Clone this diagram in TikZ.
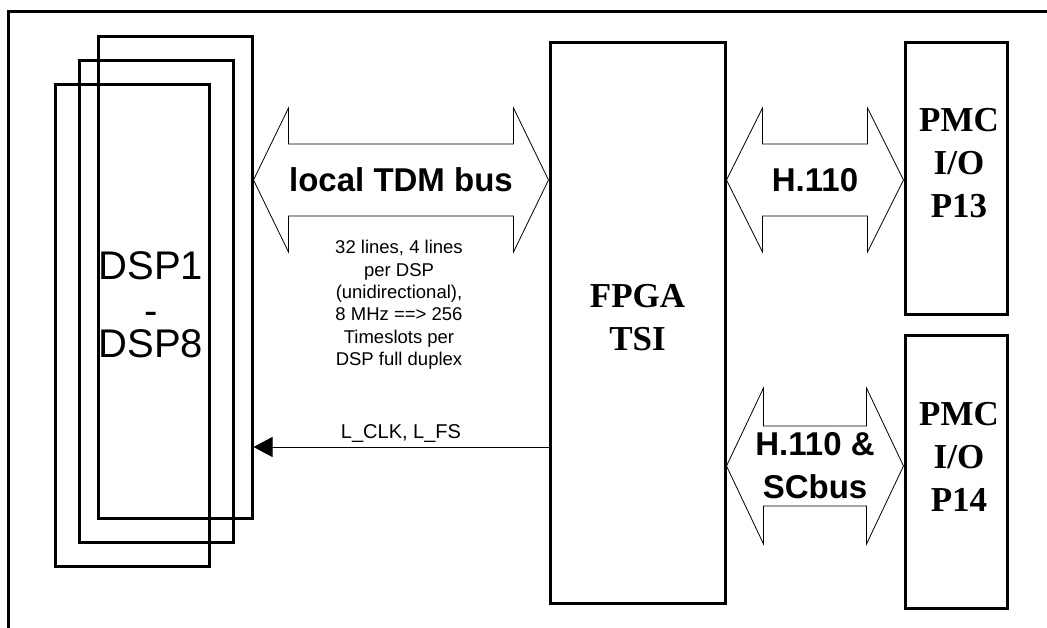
\documentclass[tikz,border=0pt]{standalone}
\usepackage{fontspec}
\setmainfont{Liberation Serif}
\setsansfont{Liberation Sans}
\usetikzlibrary{arrows.meta,calc,positioning}

% fat double arrow: #1 left tip, #2 right tip, #3 head length, #4 head half height, #5 shaft half height
\newcommand{\busarrow}[5]{%
  \draw[bus] (#1) -- ($(#1)+(#3,-#4)$) -- ($(#1)+(#3,-#5)$) -- ($(#2)+(-#3,-#5)$) -- ($(#2)+(-#3,-#4)$) -- (#2)
    -- ($(#2)+(-#3,#4)$) -- ($(#2)+(-#3,#5)$) -- ($(#1)+(#3,#5)$) -- ($(#1)+(#3,#4)$) -- cycle;}

\begin{document}
\begin{tikzpicture}[x=1pt,y=-1pt,
    box/.style={draw,line width=3pt,inner sep=0pt},
    dsp/.style={box,minimum width=154pt,minimum height=481pt},
    dsptext/.style={inner sep=0pt,anchor=base,font={\fontsize{40}{36.5}\selectfont\sffamily}},
    bus/.style={line width=0.8pt,line join=miter},
    buslabel/.style={inner sep=0pt,align=center,font={\fontsize{33}{43}\selectfont\sffamily\bfseries}},
    title/.style={inner sep=0pt,align=center,font={\fontsize{35}{43}\selectfont\rmfamily\bfseries}},
    note/.style={inner sep=0pt,align=center,font={\fontsize{18.5}{22.4}\selectfont\sffamily}}]
    \useasboundingbox (0,0) rectangle (1047,628);

    % Rahmen
    \draw[line width=3pt] (8,628) -- (8,12) -- (1047,12);

    % DSP-Stapel
    \node[dsp] (dspA) at (175,277.5) {};
    \node[dsp] (dspB) at ($(dspA)+(-19,24)$) {};
    \node[dsp] (dspC) at ($(dspB)+(-24,24)$) {};
    \node[dsptext] (dspfirst) at (151,280) {DSP1};
    \node[dsptext] (dspdash) at (151,325) {-};
    \node[dsptext] (dsplast) at (151,357) {DSP8};

    % FPGA und PMC
    \node[box,minimum width=175pt,minimum height=560pt] (fpga) at (637.5,323) {};
    \node[title] (fpgalabel) at ($(fpga)+(0,-5)$) {FPGA\\TSI};
    \node[box,minimum width=102pt,minimum height=272pt] (pmc13) at (956,179) {};
    \node[title] (pmc13label) at (959,163) {PMC\\I/O\\P13};
    \node[box,minimum width=102pt,minimum height=272pt] (pmc14) at (956,472) {};
    \node[title] (pmc14label) at (959,457) {PMC\\I/O\\P14};

    % lokaler TDM-Bus
    \coordinate (tdmL) at (dspA.east |- 0,180);
    \coordinate (tdmR) at (fpga.west |- tdmL);
    \busarrow{tdmL}{tdmR}{35}{72}{36}
    \node[buslabel] (tdm) at ($(tdmL)!0.5!(tdmR)$) {local TDM bus};
    \node[note,anchor=north] (tdmnote) at (399,240)
        {32 lines, 4 lines\\per DSP\\(unidirectional),\\8 MHz ==> 256\\Timeslots per\\DSP full duplex};

    % H.110
    \coordinate (hL) at (fpga.east |- 0,180);
    \coordinate (hR) at (pmc13.west |- hL);
    \busarrow{hL}{hR}{36}{72}{36}
    \node[buslabel] (h110) at ($(hL)!0.5!(hR)$) {H.110};

    % H.110 & SCbus
    \coordinate (sL) at (fpga.east |- 0,466);
    \coordinate (sR) at (pmc14.west |- sL);
    \busarrow{sL}{sR}{37}{78}{40}
    \node[buslabel] (scbus) at ($(sL)!0.5!(sR)$) {H.110 \&\\SCbus};

    % Takt und Rahmensync
    \draw[line width=0.9pt,-{Triangle[length=19pt,width=20pt]}] (fpga.west |- 0,447) -- (dspA.east |- 0,447)
        node[midway,above=4pt,inner sep=0pt,font={\fontsize{20}{24}\selectfont\sffamily}] (clk) {L\_CLK, L\_FS};
\end{tikzpicture}
\end{document}
